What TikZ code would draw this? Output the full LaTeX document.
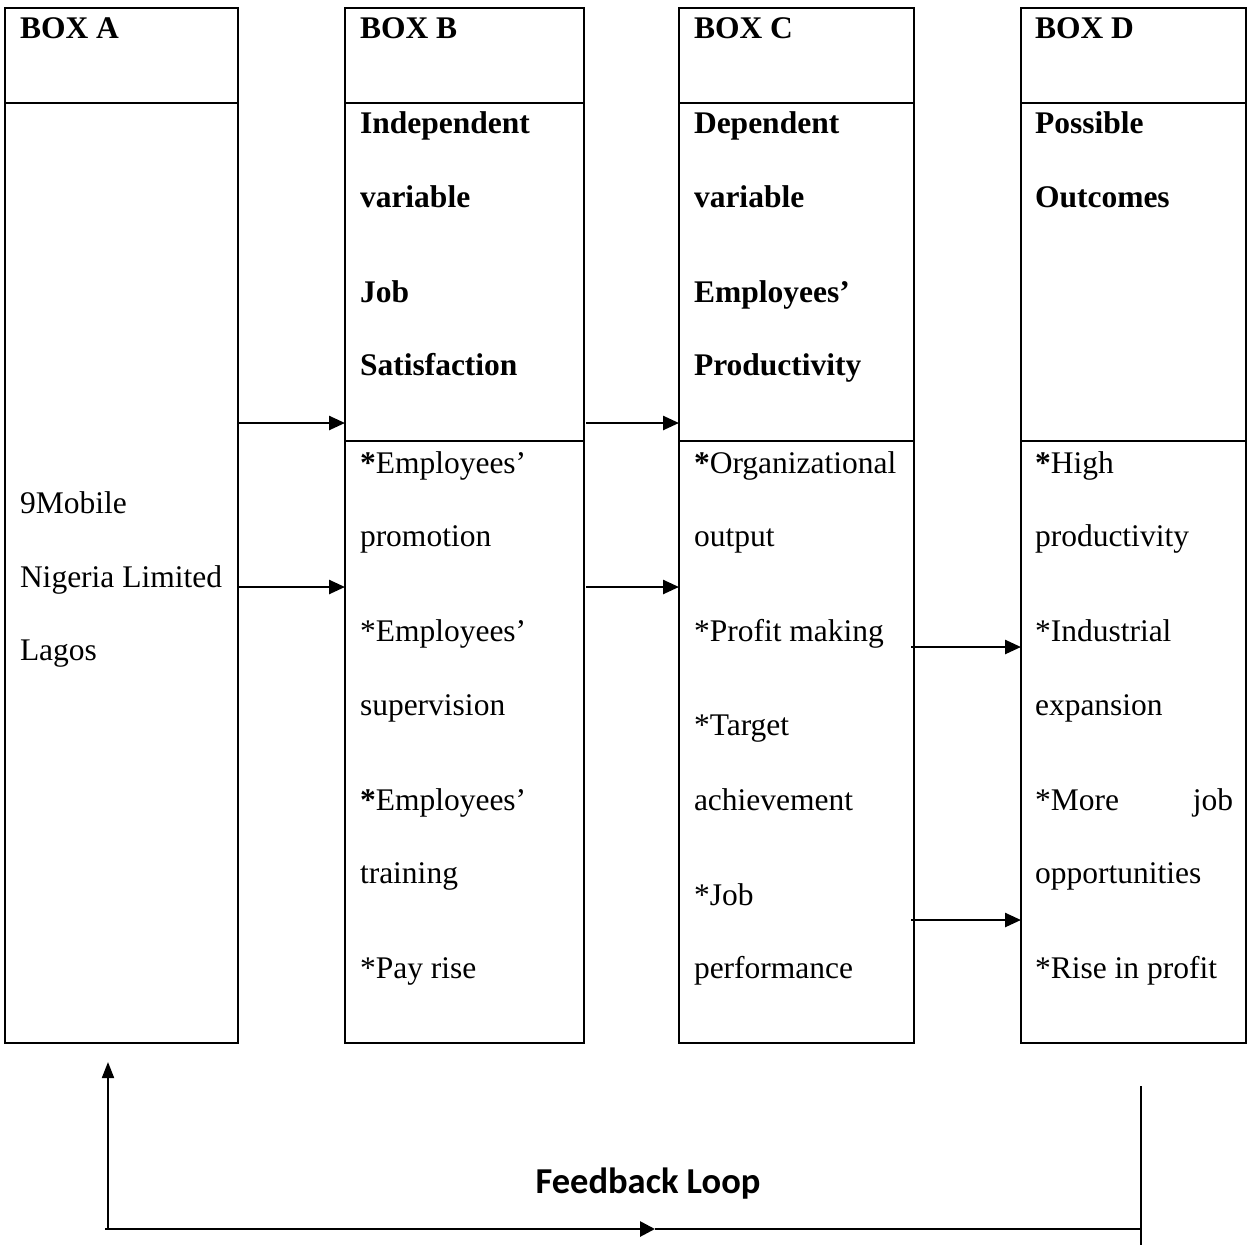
\documentclass[tikz,border=0pt]{standalone}
\usepackage{fontspec}
\setmainfont{Liberation Serif}
\newfontfamily\fbfont{Carlito}
\usetikzlibrary{arrows.meta}
\tikzset{
  box/.style={draw, line width=2pt, minimum width=#1, minimum height=1035pt,
    anchor=north west, inner sep=0pt, outer sep=0pt},
  divline/.style={line width=2pt},
  txt/.style={anchor=base west, inner sep=0pt, outer sep=0pt,
    font=\fontsize{31.5}{37}\selectfont},
  btxt/.style={txt, font=\fontsize{31.5}{37}\selectfont\bfseries},
  rtxt/.style={txt, anchor=base east},
  conn/.style={line width=2.5pt, -{Triangle[length=16pt,width=14pt]}},
  fbline/.style={line width=1.8pt},
  fbarrow/.style={line width=1.8pt, -{Triangle[length=16pt,width=12pt]}},
  fbmid/.style={line width=2.8pt, -{Triangle[length=15pt,width=15pt]}},
}
\begin{document}
\begin{tikzpicture}[x=1pt,y=-1pt]
\useasboundingbox (0,0) rectangle (1249,1247);

% boxes
\node[box=233pt] (boxA) at (5,8) {};
\node[box=239pt] (boxB) at (345,8) {};
\node[box=235pt] (boxC) at (679,8) {};
\node[box=225pt] (boxD) at (1021,8) {};

\coordinate (h1) at (0,103);
\coordinate (h2) at (0,441);
\foreach \b in {boxA,boxB,boxC,boxD}
  \draw[divline] (\b.west |- h1) -- (\b.east |- h1);
\foreach \b in {boxB,boxC,boxD}
  \draw[divline] (\b.west |- h2) -- (\b.east |- h2);

% headers
\node[btxt] (ha) at (20,38) {BOX A};
\node[btxt] (hb) at (360,38) {BOX B};
\node[btxt] (hc) at (694,38) {BOX C};
\node[btxt] (hd) at (1035,38) {BOX D};

% box A
\node[txt] (a1) at (20,513) {9Mobile};
\node[txt] (a2) at (20,587) {Nigeria Limited};
\node[txt] (a3) at (20,660) {Lagos};

% box B
\node[btxt] (b1) at (360,133) {Independent};
\node[btxt] (b2) at (360,207) {variable};
\node[btxt] (b3) at (360,302) {Job};
\node[btxt] (b4) at (360,375) {Satisfaction};
\node[txt] (b5) at (360,473) {\textbf{*}Employees’};
\node[txt] (b6) at (360,546) {promotion};
\node[txt] (b7) at (360,641) {*Employees’};
\node[txt] (b8) at (360,715) {supervision};
\node[txt] (b9) at (360,810) {\textbf{*}Employees’};
\node[txt] (b10) at (360,883) {training};
\node[txt] (b11) at (360,978) {*Pay rise};

% box C
\node[btxt] (c1) at (694,133) {Dependent};
\node[btxt] (c2) at (694,207) {variable};
\node[btxt] (c3) at (694,302) {Employees’};
\node[btxt] (c4) at (694,375) {Productivity};
\node[txt] (c5) at (694,473) {\textbf{*}Organizational};
\node[txt] (c6) at (694,546) {output};
\node[txt] (c7) at (694,641) {*Profit making};
\node[txt] (c8) at (694,735) {*Target};
\node[txt] (c9) at (694,810) {achievement};
\node[txt] (c10) at (694,905) {*Job};
\node[txt] (c11) at (694,978) {performance};

% box D
\node[btxt] (d1) at (1035,133) {Possible};
\node[btxt] (d2) at (1035,207) {Outcomes};
\node[txt] (d3) at (1035,473) {\textbf{*}High};
\node[txt] (d4) at (1035,546) {productivity};
\node[txt] (d5) at (1035,641) {*Industrial};
\node[txt] (d6) at (1035,715) {expansion};
\node[txt] (d7) at (1035,810) {*More};
\node[rtxt] (d7b) at (1233,810) {job};
\node[txt] (d8) at (1035,883) {opportunities};
\node[txt] (d9) at (1035,978) {*Rise in profit};

% connectors
\coordinate (r1) at (0,423);
\coordinate (r2) at (0,587);
\coordinate (r3) at (0,647);
\coordinate (r4) at (0,920);
\draw[conn] (boxA.east |- r1) -- (boxB.west |- r1);
\draw[conn] (boxA.east |- r2) -- (boxB.west |- r2);
\draw[conn] ([xshift=2pt]boxB.east |- r1) -- (boxC.west |- r1);
\draw[conn] ([xshift=2pt]boxB.east |- r2) -- (boxC.west |- r2);
\draw[conn] ([xshift=-3pt]boxC.east |- r3) -- (boxD.west |- r3);
\draw[conn] ([xshift=-3pt]boxC.east |- r4) -- (boxD.west |- r4);

% feedback loop
\coordinate (fbL) at (108,1229);
\coordinate (fbLs) at (105,1229);
\coordinate (fbTop) at (108,1062);
\coordinate (fbMid) at (655,1229);
\coordinate (fbR) at (1141,1229);
\coordinate (fbRtop) at (1141,1086);
\coordinate (fbRbot) at (1141,1245);
\draw[fbarrow] (fbL) -- (fbTop);
\draw[fbmid] (fbLs) -- (fbMid);
\draw[line width=2.8pt] (fbMid) -- (fbR);
\draw[fbline] (fbRtop) -- (fbRbot);
\node[anchor=base, inner sep=0pt, font=\fbfont\fontsize{36.5}{44}\selectfont\bfseries] (fbtxt) at (648,1193) {Feedback Loop};
\end{tikzpicture}
\end{document}
